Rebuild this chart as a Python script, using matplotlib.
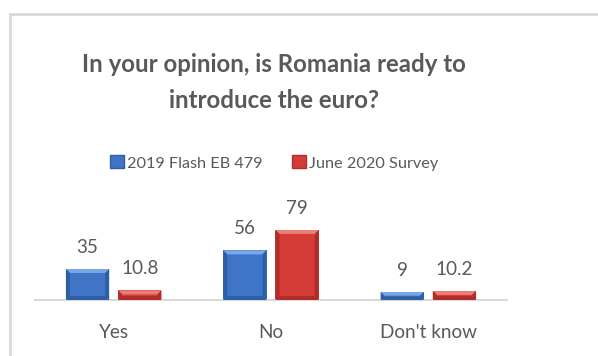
import matplotlib
matplotlib.use("Agg")
import matplotlib.pyplot as plt
from matplotlib.patches import Polygon, Rectangle
from matplotlib.lines import Line2D
import numpy as np

categories = ["Yes", "No", "Don't know"]
series_names = ["2019 Flash EB 479", "June 2020 Survey"]
flash_2019 = [35, 56, 9]
survey_2020 = [10.8, 79, 10.2]
value_labels_2019 = ["35", "56", "9"]
value_labels_2020 = ["10.8", "79", "10.2"]

FONT = "Lato"
TEXT = "#595959"
BLUE = "#3f74c6"
BLUE_LIGHT = "#7aa8e6"
BLUE_DARK = "#2d5ea6"
RED = "#d33c37"
RED_LIGHT = "#ec7d76"
RED_DARK = "#b02c29"

W, H = 598, 356
fig = plt.figure(figsize=(W / 100, H / 100), dpi=100)
fig.patch.set_facecolor("white")

# outer chart frame (top and left edges)
fig.add_artist(Line2D([10 / W, 10 / W], [0, 1 - 14 / H], color="#d9d9d9", lw=2, transform=fig.transFigure))
fig.add_artist(Line2D([10 / W, 1], [1 - 14 / H, 1 - 14 / H], color="#d9d9d9", lw=2, transform=fig.transFigure))

ax = fig.add_axes([35 / W, (H - 300) / H, 472 / W, 88.6 / H])
ax.set_xlim(-0.5, 2.5)
ax.set_ylim(0, 100)
for s in ["left", "right", "top"]:
    ax.spines[s].set_visible(False)
ax.spines["bottom"].set_color("#d9d9d9")
ax.spines["bottom"].set_linewidth(1.5)
ax.set_yticks([])
x = np.arange(len(categories))
ax.set_xticks(x)
ax.set_xticklabels(categories, fontsize=13.6, color=TEXT, family=FONT)
ax.tick_params(axis="x", length=0, pad=17)

bw = 0.275
off = 0.166
bars1 = ax.bar(x - off, flash_2019, bw, color=BLUE, zorder=2)
bars2 = ax.bar(x + off, survey_2020, bw, color=RED, zorder=2)

fig.canvas.draw()
inv = ax.transData.inverted()


def bevel(bar, light, dark, b=4.0):
    # bevelled edges drawn in pixel units over the bar
    x0, y0 = bar.get_x(), bar.get_y()
    x1, y1 = x0 + bar.get_width(), y0 + bar.get_height()
    (px0, py0), (px1, py1) = ax.transData.transform([(x0, y0), (x1, y1)])
    bb = min(b, (py1 - py0) / 2.2)
    def poly(pts, c):
        d = inv.transform(pts)
        ax.add_patch(Polygon(d, closed=True, color=c, lw=0, zorder=3))
    poly([(px0, py1), (px1, py1), (px1 - bb, py1 - bb), (px0 + bb, py1 - bb)], light)
    poly([(px0, py0), (px1, py0), (px1 - bb, py0 + bb), (px0 + bb, py0 + bb)], dark)
    poly([(px0, py0), (px0, py1), (px0 + bb, py1 - bb), (px0 + bb, py0 + bb)], dark)
    poly([(px1, py0), (px1, py1), (px1 - bb, py1 - bb), (px1 - bb, py0 + bb)], dark)


for bar in bars1:
    bevel(bar, BLUE_LIGHT, BLUE_DARK)
for bar in bars2:
    bevel(bar, RED_LIGHT, RED_DARK)

for bars, labels in [(bars1, value_labels_2019), (bars2, value_labels_2020)]:
    for bar, lab in zip(bars, labels):
        ax.annotate(lab, (bar.get_x() + bar.get_width() / 2, bar.get_height()),
                    xytext=(0, 9.5), textcoords="offset points", ha="center", va="bottom",
                    fontsize=13.6, color=TEXT, family=FONT)

fig.text(274 / W, 1 - 82.5 / H, "In your opinion, is Romania ready to\nintroduce the euro?",
         ha="center", va="center", fontsize=17.3, fontweight="bold", color=TEXT,
         family=FONT, linespacing=1.65)

# legend
handles = [Rectangle((0, 0), 1, 1, facecolor=BLUE, edgecolor=BLUE_DARK, lw=1),
           Rectangle((0, 0), 1, 1, facecolor=RED, edgecolor=RED_DARK, lw=1)]
fig.legend(handles, series_names, loc="center", bbox_to_anchor=(274 / W, 1 - 163 / H),
           ncol=2, frameon=False, handlelength=0.85, handleheight=0.85, handletextpad=0.2,
           columnspacing=1.8, prop={"family": FONT, "size": 11.7}, labelcolor=TEXT)

fig.savefig("out.png", dpi=100)
